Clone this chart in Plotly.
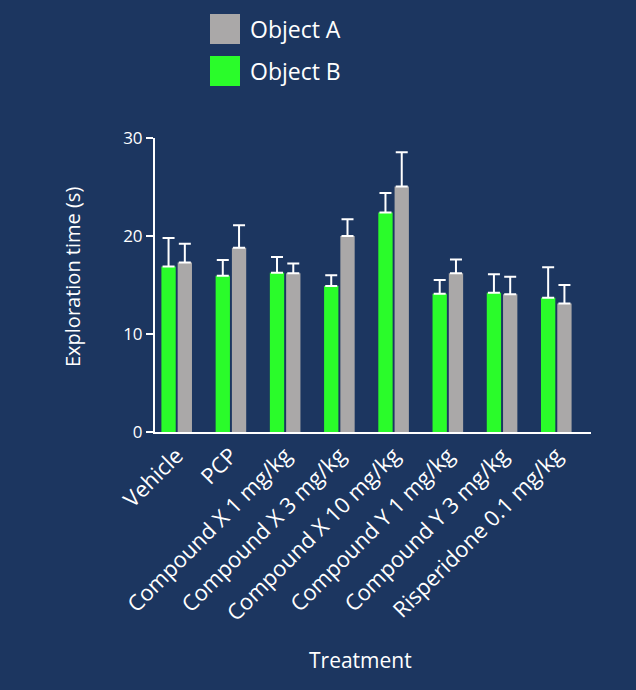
import plotly.graph_objects as go

categories = ["Vehicle", "PCP", "Compound X 1 mg/kg", "Compound X 3 mg/kg",
              "Compound X 10 mg/kg", "Compound Y 1 mg/kg", "Compound Y 3 mg/kg",
              "Risperidone 0.1 mg/kg"]
object_b = [16.9, 15.95, 16.25, 14.9, 22.4, 14.1, 14.2, 13.7]
object_b_err = [2.9, 1.6, 1.6, 1.1, 2.0, 1.4, 1.9, 3.1]
object_a = [17.3, 18.8, 16.2, 20.0, 25.05, 16.2, 14.05, 13.1]
object_a_err = [1.9, 2.3, 1.0, 1.7, 3.5, 1.4, 1.8, 1.9]
y_ticks = [0, 10, 20, 30]

BG = "#1c3660"
GREEN = "#2afc2a"
GRAY = "#aaa8a8"
FONT = "Open Sans"

fig = go.Figure()
fig.add_trace(go.Bar(
    x=categories, y=object_b, name="Object B", marker_color=GREEN,
    marker_line_width=0, showlegend=False,
    error_y=dict(type="data", array=object_b_err, arrayminus=[0]*len(object_b),
                 symmetric=False, color="white", thickness=2, width=6),
))
fig.add_trace(go.Bar(
    x=categories, y=object_a, name="Object A", marker_color=GRAY,
    marker_line_width=0, showlegend=False,
    error_y=dict(type="data", array=object_a_err, arrayminus=[0]*len(object_a),
                 symmetric=False, color="white", thickness=2, width=6),
))

# legend drawn manually (large swatches)
legend_items = [("Object A", GRAY), ("Object B", GREEN)]
for i, (name, col) in enumerate(legend_items):
    yc = 29 + i * 42
    fig.add_shape(type="rect", xref="paper", yref="paper",
                  x0=(210 - 155) / 436, x1=(240 - 155) / 436,
                  y0=(432 - (yc + 15)) / 294, y1=(432 - (yc - 15)) / 294,
                  fillcolor=col, line_width=0)
    fig.add_annotation(text=name, xref="paper", yref="paper",
                       x=(248 - 155) / 436, y=(432 - yc) / 294,
                       xanchor="left", yanchor="middle", showarrow=False,
                       font=dict(size=23, color="white", family=FONT))

fig.add_annotation(text="Exploration time (s)", xref="paper", yref="paper",
                   x=(72 - 155) / 436, y=(432 - 277) / 294, textangle=-90,
                   xanchor="center", yanchor="middle", showarrow=False,
                   font=dict(size=20, color="white", family=FONT))
fig.add_annotation(text="Treatment", xref="paper", yref="paper",
                   x=(360 - 155) / 436, y=(432 - 660) / 294,
                   xanchor="center", yanchor="middle", showarrow=False,
                   font=dict(size=21, color="white", family=FONT))

fig.update_layout(
    width=636, height=690,
    paper_bgcolor=BG, plot_bgcolor=BG,
    margin=dict(l=155, r=45, t=138, b=258),
    barmode="group", bargap=0.4, bargroupgap=0.12,
    font=dict(family=FONT, color="white"),
    showlegend=False,
)
fig.update_xaxes(
    range=[-0.4, 7.64], showline=True, linecolor="white", linewidth=2,
    ticks="", tickangle=-45, tickfont=dict(size=22, color="white", family=FONT),
    showgrid=False, zeroline=False, automargin=False,
)
fig.update_yaxes(
    range=[0, 30], tickvals=y_ticks, showline=True, linecolor="white", linewidth=2,
    ticks="outside", ticklen=7, tickwidth=2, tickcolor="white",
    tickfont=dict(size=17, color="white", family=FONT),
    showgrid=False, zeroline=False, automargin=False,
)

fig.write_html(
    "out.html",
    config={"displayModeBar": False},
    post_script="document.body.style.margin='0';document.body.style.background='%s';" % BG,
)
